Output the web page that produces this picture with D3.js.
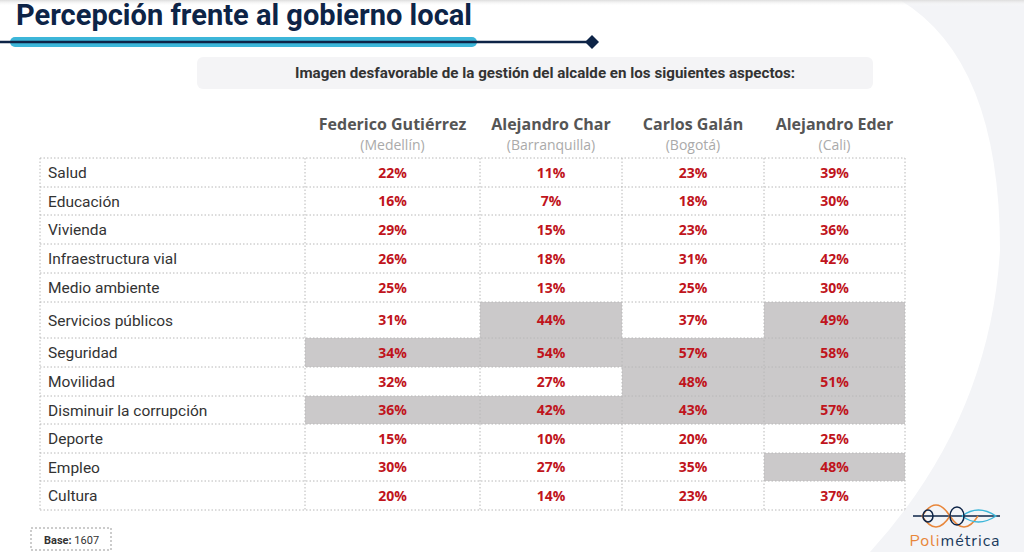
<!DOCTYPE html><html><head><meta charset="utf-8"><script src="https://cdn.jsdelivr.net/npm/d3@7"></script>
<style>body{margin:0;background:#fff}svg{display:block}</style></head><body><svg id="c" width="1024" height="552"></svg>
<script>
const aspects=["Salud","Educación","Vivienda","Infraestructura vial","Medio ambiente","Servicios públicos","Seguridad","Movilidad","Disminuir la corrupción","Deporte","Empleo","Cultura"];
const mayors=["Federico Gutiérrez","Alejandro Char","Carlos Galán","Alejandro Eder"];
const cities=["(Medellín)","(Barranquilla)","(Bogotá)","(Cali)"];
const gutierrez=[22,16,29,26,25,31,34,32,36,15,30,20];
const charV=[11,7,15,18,13,44,54,27,42,10,27,14];
const galan=[23,18,23,31,25,37,57,48,43,20,35,23];
const eder=[39,30,36,42,30,49,58,51,57,25,48,37];
const highlighted=[[0,0,0,0],[0,0,0,0],[0,0,0,0],[0,0,0,0],[0,0,0,0],[0,1,0,1],[1,1,1,1],[0,0,1,1],[1,1,1,1],[0,0,0,0],[0,0,0,1],[0,0,0,0]];
const rowEdges=[158,187,215,244,273,302,338,367,396,424,453,481,510];
const colEdges=[40,305,480,622,764,905];
const cols=[gutierrez,charV,galan,eder];
const svg=d3.select("#c");
svg.append("path").attr("d","M1024,0 L900,0 Q1000,60 1000,250 Q990,420 870,552 L1024,552Z").attr("fill","#f3f4f7");
const sh=svg.append("defs").append("linearGradient").attr("id","g").attr("x1",0).attr("y1",0).attr("x2",0).attr("y2",1);
sh.append("stop").attr("offset",0).attr("stop-color","#ddd");sh.append("stop").attr("offset",1).attr("stop-color","#fff").attr("stop-opacity",0);
svg.append("rect").attr("x",0).attr("y",0).attr("width",1024).attr("height",6).attr("fill","url(#g)");
svg.append("text").attr("x",16).attr("y",25).attr("font-family","Roboto").attr("font-weight",700).attr("font-size",30).attr("fill","#0d2447").attr("textLength",456).attr("lengthAdjust","spacingAndGlyphs").text("Percepción frente al gobierno local");
svg.append("rect").attr("x",10).attr("y",37).attr("width",467).attr("height",10).attr("rx",5).attr("fill","#3cb6d9");
svg.append("line").attr("x1",0).attr("x2",592).attr("y1",42).attr("y2",42).attr("stroke","#0d2447").attr("stroke-width",2.5);
svg.append("path").attr("d","M592,35 L599,42 L592,49 L585,42Z").attr("fill","#0d2447");
svg.append("rect").attr("x",197).attr("y",57).attr("width",676).attr("height",32).attr("rx",6).attr("fill","#f4f4f6");
svg.append("text").attr("x",545).attr("y",78).attr("text-anchor","middle").attr("font-family","Roboto").attr("font-weight",700).attr("font-size",14.5).attr("fill","#333").attr("textLength",500).attr("lengthAdjust","spacingAndGlyphs").text("Imagen desfavorable de la gestión del alcalde en los siguientes aspectos:");
const x=(i)=>(colEdges[i+1]+colEdges[i+2])/2;
mayors.forEach((m,i)=>{
 svg.append("text").attr("x",x(i)).attr("y",130).attr("text-anchor","middle").attr("font-family","Open Sans").attr("font-weight",700).attr("font-size",16).attr("fill","#555").text(m);
 svg.append("text").attr("x",x(i)).attr("y",150).attr("text-anchor","middle").attr("font-family","Open Sans").attr("font-size",14).attr("fill","#aaa").text(cities[i]);
});
const y=d3.scaleOrdinal().domain(aspects).range(rowEdges.slice(0,12));
aspects.forEach((a,r)=>{
 const y0=y(a),y1=rowEdges[r+1];
 cols.forEach((c,i)=>{
  if(highlighted[r][i]) svg.append("rect").attr("x",colEdges[i+1]).attr("y",y0).attr("width",colEdges[i+2]-colEdges[i+1]).attr("height",y1-y0).attr("fill","#cbc9ca");
  svg.append("text").attr("x",x(i)).attr("y",(y0+y1)/2+5).attr("text-anchor","middle").attr("font-family","Open Sans").attr("font-weight",700).attr("font-size",14).attr("fill","#c0141c").text(c[r]+"%");
 });
 svg.append("text").attr("x",48).attr("y",(y0+y1)/2+5.5).attr("font-family","Roboto").attr("font-size",15.5).attr("fill","#333").text(a);
});
const grid=svg.append("g").attr("stroke","#b8b8b8").attr("stroke-dasharray","1.5,2").attr("stroke-width",1);
rowEdges.forEach(e=>grid.append("line").attr("x1",40).attr("x2",905).attr("y1",e).attr("y2",e));
colEdges.forEach(e=>grid.append("line").attr("x1",e).attr("x2",e).attr("y1",158).attr("y2",510));
svg.append("rect").attr("x",31).attr("y",528).attr("width",80).attr("height",22).attr("fill","none").attr("stroke","#999").attr("stroke-dasharray","2,2");
const bt=svg.append("text").attr("x",44).attr("y",544).attr("font-family","Roboto").attr("font-size",11).attr("fill","#333");
bt.append("tspan").attr("font-weight",700).text("Base: ");bt.append("tspan").text("1607");
const lg=svg.append("g").attr("fill","none").attr("stroke-width",1.5);
lg.append("line").attr("x1",913).attr("x2",1000).attr("y1",516).attr("y2",516).attr("stroke","#0d2447");
lg.append("path").attr("d","M922,516 Q936,494 950,516 Q964,538 978,516").attr("stroke","#e8863a");
lg.append("path").attr("d","M922,516 Q936,538 950,516").attr("stroke","#e8863a");
lg.append("path").attr("d","M962,516 Q978,504 996,516 Q978,528 962,516").attr("stroke","#3cb6d9");
lg.append("ellipse").attr("cx",928).attr("cy",516).attr("rx",5).attr("ry",6).attr("stroke","#0d2447");
lg.append("ellipse").attr("cx",957).attr("cy",516).attr("rx",7).attr("ry",9).attr("stroke","#0d2447");
const lt=svg.append("text").attr("x",955).attr("y",546).attr("text-anchor","middle").attr("font-family","Nunito, Lato").attr("font-size",16).attr("letter-spacing",1);
lt.append("tspan").attr("fill","#e8863a").text("Poli");lt.append("tspan").attr("fill","#1a3a5c").text("métrica");
</script></body></html>
